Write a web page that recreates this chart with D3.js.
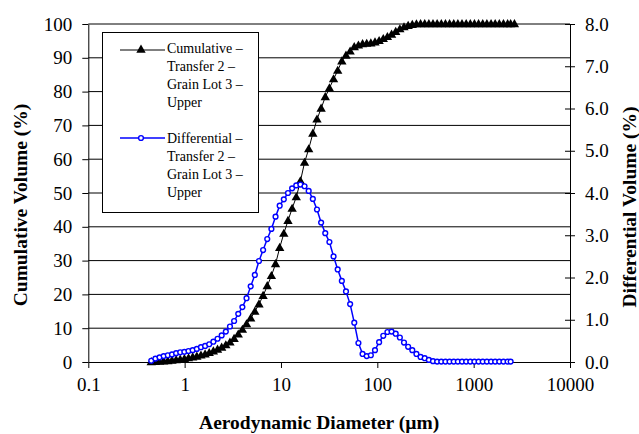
<!DOCTYPE html>
<html>
<head>
<meta charset="utf-8">
<script src="https://cdn.jsdelivr.net/npm/d3@7"></script>
<style>
    body { margin: 0; background: #fff; }
    svg { display: block; font-family: 'Liberation Serif', 'Times New Roman', serif; }
    .grid-line { stroke: #000; stroke-width: 1; }
    .axis path, .axis line { stroke: #000; stroke-width: 1; }
    .axis text { font-size: 19px; fill: #000; font-family: 'Liberation Serif', serif; }
    .axis-label { font-size: 19.5px; font-weight: bold; fill: #000; }
    .legend-text { font-size: 14px; fill: #000; }
</style>
</head>
<body>
<div id="chart"></div>
<script>
// particle size (µm)
const sizes = [
    0.450, 0.497, 0.549, 0.606, 0.669, 0.739, 0.816, 0.900, 0.994, 1.097,
    1.212, 1.338, 1.477, 1.631, 1.800, 1.988, 2.195, 2.423, 2.676, 2.954,
    3.262, 3.601, 3.976, 4.390, 4.847, 5.352, 5.909, 6.524, 7.203, 7.953,
    8.781, 9.695, 10.70, 11.82, 13.05, 14.41, 15.91, 17.56, 19.39, 21.41,
    23.64, 26.10, 28.82, 31.82, 35.13, 38.79, 42.83, 47.29, 52.21, 57.65,
    63.65, 70.27, 77.59, 85.67, 94.59, 104.4, 115.3, 127.3, 140.6, 155.2,
    171.4, 189.2, 208.9, 230.7, 254.7, 281.2, 310.5, 342.8, 378.5, 417.9,
    461.4, 509.5, 562.5, 621.1, 685.7, 757.1, 836.0, 923.0, 1019, 1125,
    1242, 1372, 1515, 1672, 1846, 2039, 2251, 2420, 2650
]

// cumulative volume (%), left axis
const cumulative = [
    0.0, 0.05, 0.1, 0.2, 0.3, 0.45, 0.6, 0.75, 0.95, 1.15,
    1.4, 1.65, 1.95, 2.3, 2.7, 3.2, 3.7, 4.3, 5.0, 5.8,
    6.9, 8.2, 9.6, 11.2, 12.9, 14.9, 17.1, 19.6, 22.5, 25.5,
    29.0, 33.8, 38.0, 41.8, 45.4, 48.8, 53.5, 59.0, 63.0, 67.6,
    71.8, 75.0, 78.4, 81.0, 83.7, 86.2, 89.0, 90.7, 91.9, 93.2,
    93.7, 94.1, 94.2, 94.3, 94.6, 95.0, 95.6, 96.2, 96.9, 97.7,
    98.5, 99.1, 99.5, 99.8, 99.95, 100, 100, 100, 100, 100,
    100, 100, 100, 100, 100, 100, 100, 100, 100, 100,
    100, 100, 100, 100, 100, 100, 100, 100, 100
]

// differential volume (%), right axis
const differential = [
    0.03, 0.08, 0.11, 0.14, 0.16, 0.18, 0.21, 0.23, 0.24, 0.26,
    0.28, 0.31, 0.35, 0.38, 0.42, 0.48, 0.55, 0.63, 0.72, 0.84,
    0.97, 1.14, 1.30, 1.51, 1.79, 2.06, 2.39, 2.65, 2.91, 3.15,
    3.44, 3.70, 3.85, 4.00, 4.11, 4.18, 4.20, 4.16, 4.05, 3.86,
    3.61, 3.30, 3.05, 2.84, 2.50, 2.19, 1.92, 1.67, 1.37, 0.93,
    0.45, 0.19, 0.14, 0.16, 0.28, 0.47, 0.62, 0.71, 0.72, 0.67,
    0.58, 0.46, 0.36, 0.28, 0.19, 0.12, 0.09, 0.05, 0.02, 0.01,
    0.01, 0.01, 0.01, 0.01, 0.01, 0.01, 0.01, 0.01, 0.01, 0.01,
    0.01, 0.01, 0.01, 0.01, 0.01, 0.01, 0.01, 0.01
]

const xTicks = [0.1, 1, 10, 100, 1000, 10000]
const yTicksLeft = [0, 10, 20, 30, 40, 50, 60, 70, 80, 90, 100]
const yTicksRight = [0, 1, 2, 3, 4, 5, 6, 7, 8]
const legendCum = ['Cumulative –', 'Transfer 2 –', 'Grain Lot 3 –', 'Upper']
const legendDiff = ['Differential –', 'Transfer 2 –', 'Grain Lot 3 –', 'Upper']

const W = 639, H = 434
const plot = { left: 88.3, right: 570, top: 24, bottom: 362 }

const xScale = d3.scaleLog().domain([0.1, 10000]).range([plot.left, plot.right])
const yScale = d3.scaleLinear().domain([0, 100]).range([plot.bottom, plot.top])
const y2Scale = d3.scaleLinear().domain([0, 8]).range([plot.bottom, plot.top])

const svg = d3.select('#chart').append('svg')
    .attr('width', W)
    .attr('height', H)

// horizontal gridlines
svg.append('g').selectAll('line')
    .data(yTicksLeft.filter(t => t !== 0))
    .enter()
    .append('line')
    .attr('class', 'grid-line')
    .attr('x1', plot.left).attr('x2', plot.right)
    .attr('y1', d => yScale(d)).attr('y2', d => yScale(d))

// axes
const xAxisEl = svg.append('g')
    .attr('class', 'axis')
    .attr('transform', `translate(0,${plot.bottom})`)
    .call(d3.axisBottom(xScale).tickValues(xTicks).tickSizeInner(6).tickSizeOuter(0).tickPadding(6)
        .tickFormat(d => String(d)))
xAxisEl.selectAll('text').attr('dy', '0.9em')

svg.append('g')
    .attr('class', 'axis')
    .attr('transform', `translate(${plot.left},0)`)
    .call(d3.axisLeft(yScale).tickValues(yTicksLeft).tickSizeInner(6).tickSizeOuter(0).tickPadding(10)
        .tickFormat(d3.format('d')))

const y2AxisEl = svg.append('g')
    .attr('class', 'axis')
    .attr('transform', `translate(${plot.right},0)`)
    .call(d3.axisRight(y2Scale).tickValues(yTicksRight).tickSizeInner(5).tickSizeOuter(0).tickPadding(10)
        .tickFormat(d3.format('.1f')))
y2AxisEl.selectAll('.tick line').attr('x1', -5)

// axis titles
svg.append('text')
    .attr('class', 'axis-label')
    .attr('x', (plot.left + plot.right) / 2 - 10)
    .attr('y', 429)
    .attr('text-anchor', 'middle')
    .text('Aerodynamic Diameter (µm)')

svg.append('text')
    .attr('class', 'axis-label')
    .attr('transform', 'rotate(-90)')
    .attr('x', -205)
    .attr('y', 27)
    .attr('text-anchor', 'middle')
    .text('Cumulative Volume (%)')

svg.append('text')
    .attr('class', 'axis-label')
    .attr('transform', 'rotate(-90)')
    .attr('x', -207)
    .attr('y', 636)
    .attr('text-anchor', 'middle')
    .text('Differential Volume (%)')

// cumulative series
const cumData = sizes.map((s, i) => ({ s: s, v: cumulative[i] })).filter(d => d.v !== undefined)
const diffData = sizes.map((s, i) => ({ s: s, v: differential[i] })).filter(d => d.v !== undefined)

const cumLine = d3.line().x(d => xScale(d.s)).y(d => yScale(d.v))
const diffLine = d3.line().x(d => xScale(d.s)).y(d => y2Scale(d.v))
const triangle = d3.symbol().type(d3.symbolTriangle).size(38)

svg.append('path')
    .datum(cumData)
    .attr('fill', 'none')
    .attr('stroke', '#000')
    .attr('stroke-width', 1)
    .attr('d', cumLine)
svg.append('g').selectAll('path')
    .data(cumData)
    .enter()
    .append('path')
    .attr('d', triangle)
    .attr('transform', d => `translate(${xScale(d.s)},${yScale(d.v) + 0.5})`)
    .attr('fill', '#000')

// differential series
svg.append('path')
    .datum(diffData)
    .attr('fill', 'none')
    .attr('stroke', '#0000ff')
    .attr('stroke-width', 1.5)
    .attr('d', diffLine)
svg.append('g').selectAll('circle')
    .data(diffData)
    .enter()
    .append('circle')
    .attr('cx', d => xScale(d.s))
    .attr('cy', d => y2Scale(d.v))
    .attr('r', 2.4)
    .attr('fill', '#fff')
    .attr('stroke', '#0000ff')
    .attr('stroke-width', 1.4)

// legend
const legend = svg.append('g')
legend.append('rect')
    .attr('x', 102.5).attr('y', 32.5)
    .attr('width', 156).attr('height', 180)
    .attr('fill', '#fff')
    .attr('stroke', '#000')
    .attr('stroke-width', 1)

legend.append('line')
    .attr('x1', 120).attr('x2', 165).attr('y1', 50).attr('y2', 50)
    .attr('stroke', '#000').attr('stroke-width', 1)
legend.append('path')
    .attr('d', triangle)
    .attr('transform', 'translate(141,50)')
    .attr('fill', '#000')
legend.append('line')
    .attr('x1', 120).attr('x2', 165).attr('y1', 138).attr('y2', 138)
    .attr('stroke', '#0000ff').attr('stroke-width', 1.5)
legend.append('circle')
    .attr('cx', 141).attr('cy', 138).attr('r', 2.4)
    .attr('fill', '#fff').attr('stroke', '#0000ff').attr('stroke-width', 1.4)

legend.selectAll('.lc')
    .data(legendCum)
    .enter()
    .append('text')
    .attr('class', 'legend-text')
    .attr('x', 167)
    .attr('y', (d, i) => 53 + i * 18)
    .text(d => d)
legend.selectAll('.ld')
    .data(legendDiff)
    .enter()
    .append('text')
    .attr('class', 'legend-text')
    .attr('x', 167)
    .attr('y', (d, i) => 142.5 + i * 18)
    .text(d => d)
</script>
</body>
</html>
